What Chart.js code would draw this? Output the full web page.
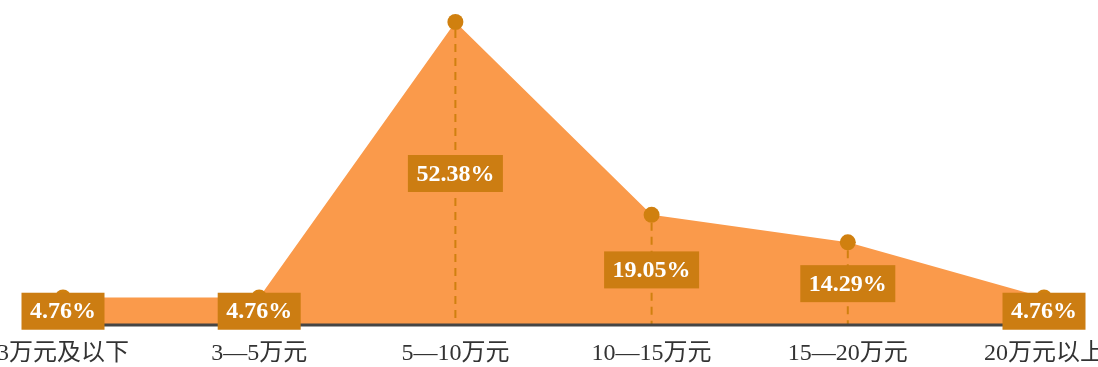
<!DOCTYPE html>
<html>
<head>
    <title>收入分布</title>
    <style>
        body {
            margin: 0;
            padding: 0;
            background-color: #ffffff;
        }
        #chart {
            display: block;
        }
    </style>
</head>
<body>
<canvas id="chart" width="1098" height="367"></canvas>
<script src="https://cdn.jsdelivr.net/npm/chart.js"></script>
<script>
    // income brackets and share of respondents (%)
    const categories = ['3万元及以下', '3—5万元', '5—10万元', '10—15万元', '15—20万元', '20万元以上'];
    const shares = [4.76, 4.76, 52.38, 19.05, 14.29, 4.76];
    const shareLabels = ['4.76%', '4.76%', '52.38%', '19.05%', '14.29%', '4.76%'];

    const dark = '#D0800F';

    // dashed drop lines, baseline, value boxes and category labels
    const decorations = {
      id: 'decorations',
      afterDatasetsDraw(chart) {
        const ctx = chart.ctx;
        const area = chart.chartArea;
        const x = chart.scales.x;
        const y = chart.scales.y;
        const base = y.getPixelForValue(0);

        ctx.save();
        // drop lines
        ctx.strokeStyle = dark;
        ctx.lineWidth = 2;
        ctx.setLineDash([8, 6]);
        shares.forEach((v, i) => {
          const px = x.getPixelForValue(i);
          ctx.beginPath();
          ctx.moveTo(px, y.getPixelForValue(v) + 8);
          ctx.lineTo(px, base);
          ctx.stroke();
        });
        ctx.setLineDash([]);

        // baseline
        ctx.strokeStyle = '#454545';
        ctx.lineWidth = 3;
        ctx.beginPath();
        ctx.moveTo(area.left, base);
        ctx.lineTo(area.right, base);
        ctx.stroke();

        // value boxes
        ctx.font = 'bold 24px "Liberation Serif", "Noto Sans CJK SC", serif';
        ctx.textAlign = 'center';
        ctx.textBaseline = 'middle';
        shares.forEach((v, i) => {
          const px = x.getPixelForValue(i);
          const py = (y.getPixelForValue(v) + base) / 2;
          const w = ctx.measureText(shareLabels[i]).width + 17;
          const h = 37;
          ctx.fillStyle = '#CC7D12';
          ctx.fillRect(px - w / 2, py - h / 2, w, h);
          ctx.fillStyle = '#ffffff';
          ctx.fillText(shareLabels[i], px, py + 1);
        });

        // category labels
        ctx.font = '24px "Liberation Serif", "Noto Sans CJK SC", serif';
        ctx.fillStyle = '#333333';
        categories.forEach((c, i) => {
          ctx.fillText(c, x.getPixelForValue(i), base + 29);
        });
        ctx.restore();
      }
    };

    const ctx = document.getElementById('chart').getContext('2d');
    const chart = new Chart(ctx, {
      type: 'line',
      data: {
        labels: categories,
        datasets: [{
          data: shares,
          fill: 'origin',
          backgroundColor: '#FA9A4B',
          borderWidth: 0,
          borderColor: 'rgba(0,0,0,0)',
          pointRadius: 8,
          pointHoverRadius: 8,
          pointBackgroundColor: dark,
          pointBorderWidth: 0,
          tension: 0,
          clip: false,
        }],
      },
      options: {
        responsive: false,
        animation: false,
        events: [],
        scales: {
          x: {
            display: false,
            offset: false,
          },
          y: {
            display: false,
            min: 0,
            max: 52.38,
          },
        },
        plugins: {
          legend: { display: false },
          tooltip: { enabled: false },
        },
        layout: {
          padding: { left: 63, right: 54, top: 22, bottom: 42 },
        },
      },
      plugins: [decorations],
    });
</script>
</body>
</html>
